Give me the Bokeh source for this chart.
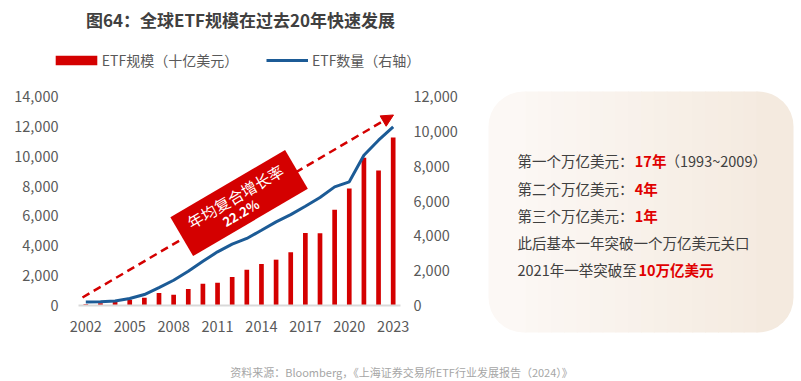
import numpy as np
from bokeh.plotting import figure
from bokeh.models import (ColumnDataSource, Range1d, LinearAxis, FixedTicker,
                          NumeralTickFormatter, Legend, LegendItem, Label, BoxAnnotation, Arrow, NormalHead)
from bokeh.core.properties import value
from bokeh.embed import file_html
from bokeh.resources import INLINE

# ---------------- data ----------------
years = list(range(2002, 2024))
aum_bn = [80, 150, 260, 380, 520, 830, 720, 1110, 1450, 1520, 1910, 2400, 2780, 3070,
          3560, 4860, 4840, 6420, 7830, 9900, 9040, 11260]
etf_count = [207, 220, 264, 400, 630, 1030, 1450, 1970, 2540, 3080, 3520, 3850, 4320, 4800,
             5220, 5700, 6200, 6810, 7100, 8630, 9490, 10250]
x_ticks = [2002, 2005, 2008, 2011, 2014, 2017, 2020, 2023]
left_ticks = [0, 2000, 4000, 6000, 8000, 10000, 12000, 14000]
right_ticks = [0, 2000, 4000, 6000, 8000, 10000, 12000]
title_text = "图64：全球ETF规模在过去20年快速发展"
legend_bar = "ETF规模（十亿美元）"
legend_line = "ETF数量（右轴）"
cagr_title = "年均复合增长率"
cagr_value = "22.2%"
source_text = "资料来源：Bloomberg，《上海证券交易所ETF行业发展报告（2024）》"

# ---------------- style ----------------
FONT = "Noto Sans CJK SC"
RED = "#d40000"
HRED = "#e00000"
BLUE = "#1c5b96"
GREY = "#595959"
DARK = "#404040"

W, H = 801, 381
F_L, F_R, F_T, F_B = 78, 400, 96, 305   # chart area in canvas px
X0, X1 = 2001.5, 2023.5
LMAX, RMAX = 14000, 12000
KX = (X1 - X0) / (F_R - F_L)
KY = LMAX / (F_B - F_T)
KY2 = RMAX / (F_B - F_T)


def dx(px):
    return X0 + (px - F_L) * KX


def dy(py):
    return (F_B - py) * KY


p = figure(width=W, height=H, output_backend="svg", toolbar_location=None,
           x_range=Range1d(dx(0), dx(W)), y_range=Range1d(dy(H), dy(0)),
           x_axis_location=None, y_axis_location=None,
           min_border_left=0, min_border_right=0, min_border_top=0, min_border_bottom=0)
p.outline_line_color = None
p.xgrid.visible = False
p.ygrid.visible = False
p.background_fill_color = "white"
p.border_fill_color = "white"
p.extra_y_ranges = {"count": Range1d(-(H - F_B) * KY2, F_B * KY2)}

src = ColumnDataSource(dict(year=years, aum=aum_bn, cnt=etf_count))

# dashed growth arrow (below glyphs)
arrow = Arrow(end=NormalHead(size=12, fill_color=RED, line_color=RED, line_width=1),
              x_start=dx(82), y_start=dy(297), x_end=dx(393), y_end=dy(114.5),
              line_color=RED, line_width=2.5, line_dash="8 5", level="underlay")
p.add_layout(arrow)

bars = p.vbar(x="year", top="aum", width=0.32, source=src, fill_color=RED, line_color=None)
line = p.line(x="year", y="cnt", source=src, y_range_name="count", line_color=BLUE, line_width=3)

# axes (fixed inside the canvas)
xa = LinearAxis(ticker=FixedTicker(ticks=x_ticks), fixed_location=0, bounds=(X0, X1))
ya = LinearAxis(ticker=FixedTicker(ticks=left_ticks), formatter=NumeralTickFormatter(format="0,0"),
                fixed_location=X0)
ry = LinearAxis(y_range_name="count", ticker=FixedTicker(ticks=right_ticks),
                formatter=NumeralTickFormatter(format="0,0"), fixed_location=X1)
p.add_layout(xa, "below")
p.add_layout(ya, "left")
p.add_layout(ry, "right")
xa.axis_line_color = "#d9d9d9"
xa.axis_line_width = 2
for ax, so in ((xa, 15), (ya, 20), (ry, 13)):
    if ax is not xa:
        ax.axis_line_color = None
    ax.major_tick_line_color = None
    ax.minor_tick_line_color = None
    ax.major_tick_out = 0
    ax.major_tick_in = 0
    ax.major_label_standoff = so
    ax.major_label_text_font = FONT
    ax.major_label_text_font_size = "14.5px"
    ax.major_label_text_color = GREY

# banner
BAN_X, BAN_Y, BAN_ANG = dx(238.6), dy(202.5), 30.4
p.rect(x=[BAN_X], y=[BAN_Y], width=133, height=45, width_units="screen", height_units="screen",
       angle=BAN_ANG, angle_units="deg", fill_color=RED, line_color=None)
p.text(x=[BAN_X], y=[BAN_Y], text=[cagr_title], angle=BAN_ANG, angle_units="deg",
       x_offset=-4, y_offset=-7, text_font=value(FONT), text_font_size="15.5px",
       text_color="white", text_align="center", text_baseline="middle")
p.text(x=[BAN_X], y=[BAN_Y], text=[cagr_value], angle=BAN_ANG, angle_units="deg",
       x_offset=1.5, y_offset=9.5, text_font=value(FONT), text_font_size="13px", text_font_style="bold",
       text_color="white", text_align="center", text_baseline="middle")

# legends
common = dict(orientation="horizontal", padding=0, margin=0, spacing=0,
              border_line_color=None, background_fill_alpha=0,
              label_text_font=FONT, label_text_font_size="14px", label_text_color=GREY,
              label_height=12, glyph_height=12)
leg1 = Legend(items=[LegendItem(label=legend_bar, renderers=[bars])],
              location=(49.8, H - 69.5), glyph_width=52, label_standoff=0, **common)
leg2 = Legend(items=[LegendItem(label=legend_line, renderers=[line])],
              location=(266, H - 69.5), glyph_width=42, label_standoff=4, **common)
p.add_layout(leg1)
p.add_layout(leg2)

# info panel with gradient (strips)
PL, PR, PT, PB, RAD = 488, 793, 91, 332, 35
c0 = np.array([252, 249, 246])
c1 = np.array([244, 233, 222])
inner = list(np.linspace(PL + RAD + 2, PR - RAD - 2, 19))
edges = [PL] + inner + [PR]
n = len(edges) - 1
for i in range(n):
    a, b = edges[i], edges[i + 1]
    t = ((a + b) / 2 - PL) / (PR - PL)
    col = tuple(int(round(v)) for v in (c0 + (c1 - c0) * t))
    br = 0
    if i == 0:
        br = (RAD, 0, 0, RAD)
    elif i == n - 1:
        br = (0, RAD, RAD, 0)
    bb = b + 1 if i < n - 1 else b
    p.add_layout(BoxAnnotation(left=dx(a), right=dx(bb), top=dy(PT), bottom=dy(PB),
                               fill_color="#%02x%02x%02x" % col, fill_alpha=1.0,
                               line_color=None, line_alpha=0, border_radius=br, level="underlay"))


def lab(x, y, text, size="14.5px", color=DARK, bold=False, align="left"):
    p.add_layout(Label(x=dx(x), y=dy(y), text=text, text_font=FONT, text_font_size=size,
                       text_color=color, text_font_style="bold" if bold else "normal",
                       text_align=align, text_baseline="middle"))


TX = 517
lab(TX, 160, "第一个万亿美元：")
lab(634.3, 160, "17年", color=HRED, bold=True)
lab(665, 160, "（1993~2009）")
lab(TX, 187.5, "第二个万亿美元：")
lab(634.3, 187.5, "4年", color=HRED, bold=True)
lab(TX, 215, "第三个万亿美元：")
lab(634.3, 215, "1年", color=HRED, bold=True)
lab(TX, 242, "此后基本一年突破一个万亿美元关口")
lab(TX, 269, "2021年一举突破至")
lab(638, 269, "10万亿美元", color=HRED, bold=True)

# title and source
lab(240, 18.5, title_text, size="17px", color=DARK, bold=True, align="center")
lab(401, 371.7, source_text, size="11px", color="#a6a6a6", align="center")

open("out.html", "w").write(file_html(p, INLINE))
